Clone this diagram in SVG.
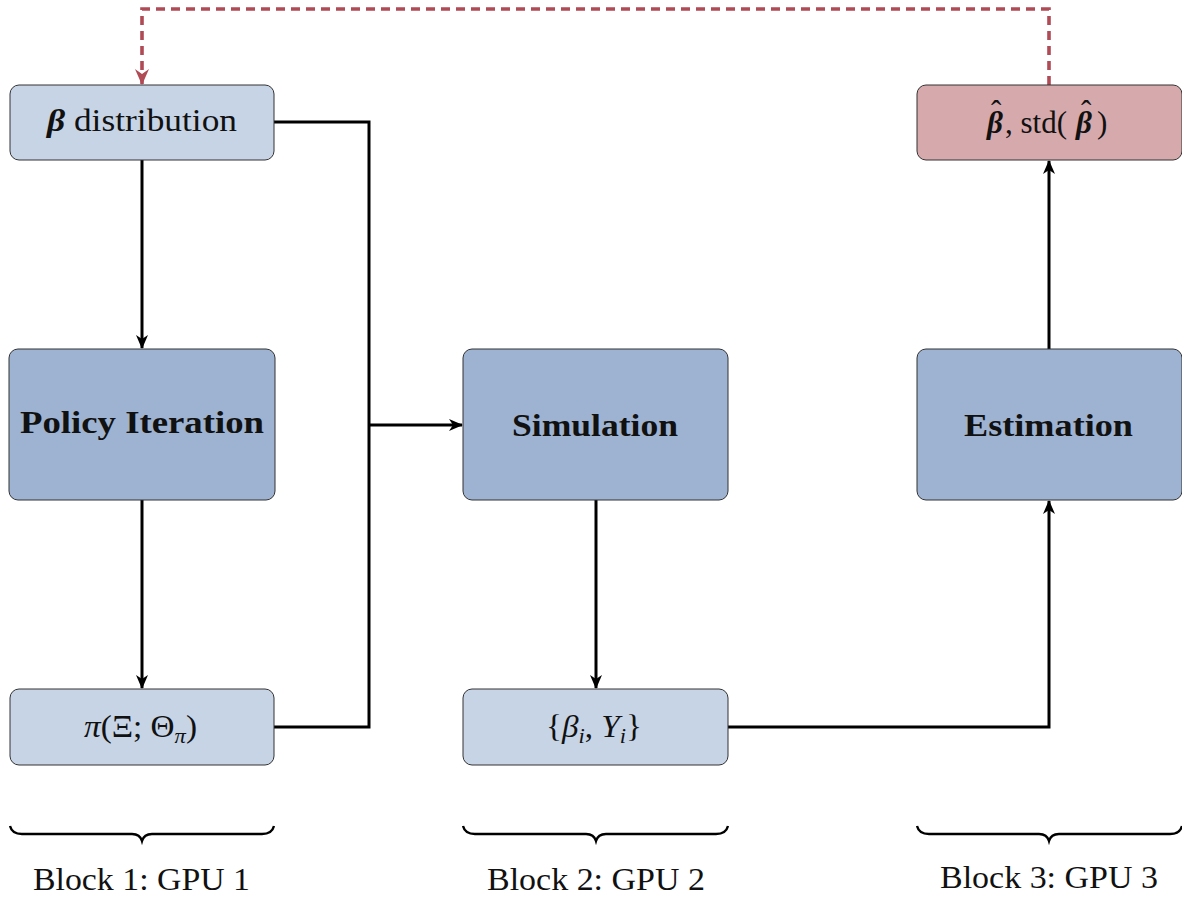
<svg xmlns="http://www.w3.org/2000/svg" width="1182" height="899" viewBox="0 0 1182 899">
  <style>
    .box { stroke: #333; stroke-width: 1; }
    .light { fill: #c6d4e6; }
    .mid { fill: #9db3d1; }
    .red { fill: #d6a9ac; }
    .lbl { font-family: "Liberation Serif", "DejaVu Serif", serif; font-size: 31px; fill: #111; }
    .head { font-family: "Liberation Serif", "DejaVu Serif", serif; font-size: 31px; font-weight: bold; fill: #111; }
    .wire { fill: none; stroke: #000; stroke-width: 3; }
    .loop { fill: none; stroke: #b04a55; stroke-width: 3.6; stroke-dasharray: 9 6; }
    .brace { fill: none; stroke: #000; stroke-width: 2.4; }
    .cap { font-family: "Liberation Serif", "DejaVu Serif", serif; font-size: 31px; fill: #111; }
    .sub { font-size: 21px; font-style: italic; }
    .it { font-style: italic; }
    .bi { font-style: italic; font-weight: bold; }
  </style>
  <defs>
    <marker id="arr" viewBox="0 0 14 12" refX="13" refY="6" markerWidth="14" markerHeight="12" markerUnits="userSpaceOnUse" orient="auto">
      <path d="M0,0 L14,6 L0,12 L4,6 Z" fill="#000"/>
    </marker>
    <marker id="arrRed" viewBox="0 0 16 14" refX="15" refY="7" markerWidth="16" markerHeight="14" markerUnits="userSpaceOnUse" orient="auto">
      <path d="M0,0 L16,7 L0,14 L5,7 Z" fill="#b04a55"/>
    </marker>
  </defs>

  <!-- connectors -->
  <g id="connectors">
    <path class="wire" d="M142,160 V348" marker-end="url(#arr)"/>
    <path class="wire" d="M142,500 V688" marker-end="url(#arr)"/>
    <path class="wire" d="M274,122 H369 V727 H274"/>
    <path class="wire" d="M369,425 H462" marker-end="url(#arr)"/>
    <path class="wire" d="M596,500 V688" marker-end="url(#arr)"/>
    <path class="wire" d="M728,727 H1049 V501" marker-end="url(#arr)"/>
    <path class="wire" d="M1049,349 V161" marker-end="url(#arr)"/>
    <path class="loop" d="M1049,85 V9 H142 V84" marker-end="url(#arrRed)"/>
  </g>

  <!-- nodes -->
  <g id="beta-dist">
    <rect class="box light" x="10" y="85" width="264" height="75" rx="9"/>
    <text class="lbl" x="47" y="131" textLength="190" lengthAdjust="spacingAndGlyphs"><tspan class="bi">β</tspan> distribution</text>
  </g>
  <g id="policy-iteration">
    <rect class="box mid" x="9" y="349" width="266" height="151" rx="9"/>
    <text class="head" x="20" y="433" textLength="244" lengthAdjust="spacingAndGlyphs">Policy Iteration</text>
  </g>
  <g id="policy">
    <rect class="box light" x="10" y="689" width="264" height="76" rx="9"/>
    <text class="lbl" x="84" y="737" textLength="113" lengthAdjust="spacingAndGlyphs"><tspan class="it">π</tspan>(Ξ; Θ<tspan class="sub" dy="6">π</tspan><tspan dy="-6">)</tspan></text>
  </g>
  <g id="simulation">
    <rect class="box mid" x="463" y="349" width="265" height="151" rx="9"/>
    <text class="head" x="512" y="436" textLength="166" lengthAdjust="spacingAndGlyphs">Simulation</text>
  </g>
  <g id="samples">
    <rect class="box light" x="463" y="689" width="265" height="76" rx="9"/>
    <text class="lbl" x="546" y="737" textLength="96" lengthAdjust="spacingAndGlyphs">{<tspan class="it">β</tspan><tspan class="sub" dy="6">i</tspan><tspan dy="-6">, </tspan><tspan class="it">Y</tspan><tspan class="sub" dy="6">i</tspan><tspan dy="-6">}</tspan></text>
  </g>
  <g id="estimation">
    <rect class="box mid" x="917" y="349" width="265" height="151" rx="9"/>
    <text class="head" x="964" y="436" textLength="169" lengthAdjust="spacingAndGlyphs">Estimation</text>
  </g>
  <g id="estimates">
    <rect class="box red" x="917" y="85" width="265" height="75" rx="9"/>
    <!-- bold beta with hat accents placed above each beta -->
    <text class="lbl"><tspan class="bi" x="987" y="133">β</tspan><tspan x="1005" y="133">, std(</tspan><tspan class="bi" x="1076" y="133">β</tspan><tspan x="1097" y="133">)</tspan><tspan x="991" y="122">ˆ</tspan><tspan x="1081" y="122">ˆ</tspan></text>
  </g>

  <!-- block braces -->
  <g id="block1">
    <path class="brace" d="M10,826 Q12,834 22,834 H132 Q140,834 142,841 Q144,834 152,834 H262 Q272,834 274,826"/>
    <text class="cap" x="33" y="890" textLength="217" lengthAdjust="spacingAndGlyphs">Block 1: GPU 1</text>
  </g>
  <g id="block2">
    <path class="brace" d="M463,826 Q465,834 475,834 H586 Q594,834 596,841 Q598,834 606,834 H716 Q726,834 728,826"/>
    <text class="cap" x="487" y="890" textLength="218" lengthAdjust="spacingAndGlyphs">Block 2: GPU 2</text>
  </g>
  <g id="block3">
    <path class="brace" d="M917,826 Q919,834 929,834 H1039 Q1047,834 1049,841 Q1051,834 1059,834 H1170 Q1180,834 1182,826"/>
    <text class="cap" x="940" y="888" textLength="218" lengthAdjust="spacingAndGlyphs">Block 3: GPU 3</text>
  </g>
</svg>
